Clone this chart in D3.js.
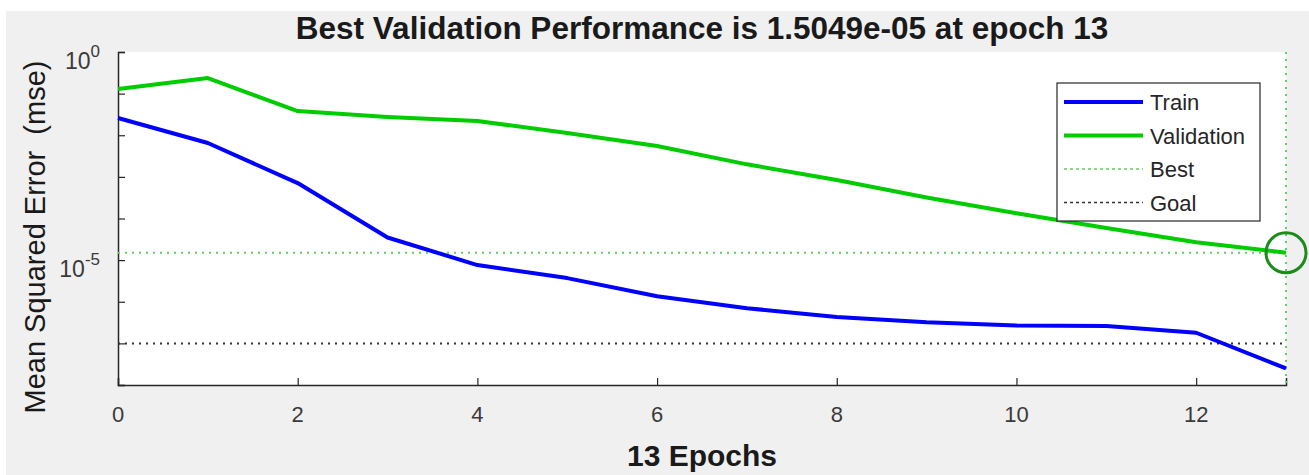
<!DOCTYPE html>
<html>
<head>
<meta charset="utf-8">
<script src="https://cdn.jsdelivr.net/npm/d3@7"></script>
<style>
  body { margin: 0; background: #ffffff; }
  text { font-family: "Liberation Sans", Arial, sans-serif; }
</style>
</head>
<body>
<div id="plot"></div>
<script>

var epochs = [0, 1, 2, 3, 4, 5, 6, 7, 8, 9, 10, 11, 12, 13];
var trainPerf = [2.6e-2, 6.5e-3, 7.1e-4, 3.5e-5, 7.6e-6, 3.7e-6, 1.36e-6, 7.0e-7, 4.3e-7, 3.2e-7, 2.7e-7, 2.6e-7, 1.8e-7, 2.5e-8];
var valPerf = [0.129, 0.237, 0.038, 0.0275, 0.022, 0.0113, 5.5e-3, 2.0e-3, 8.4e-4, 3.2e-4, 1.34e-4, 5.9e-5, 2.7e-5, 1.5049e-5];
var bestEpoch = 13;
var bestPerf = 1.5049e-5;
var goalPerf = 1e-7;
var xTicks = [0, 2, 4, 6, 8, 10, 12];
var yTickLabels = [{ v: 1, exp: "0" }, { v: 1e-5, exp: "-5" }];
var legendNames = ["Train", "Validation", "Best", "Goal"];

var svgWidth = 1309;
var svgHeight = 475;

var margin = {
  top: 52,
  right: 23,
  bottom: 90,
  left: 118
};

var width = svgWidth - margin.left - margin.right;
var height = svgHeight - margin.top - margin.bottom;

var axisColor = "#262626";
var trainColor = "#0000ff";
var valColor = "#00cc00";

var svg = d3.select("#plot")
  .append("svg")
  .attr("width", svgWidth)
  .attr("height", svgHeight);

// figure background
svg.append("rect")
  .attr("x", 6)
  .attr("y", 11)
  .attr("width", svgWidth - 6)
  .attr("height", svgHeight - 11)
  .attr("fill", "#f0f0f0");

var chartGroup = svg.append("g")
  .attr("transform", `translate(${margin.left}, ${margin.top})`);

chartGroup.append("rect")
  .attr("width", width)
  .attr("height", height)
  .attr("fill", "#ffffff");

var xScale = d3.scaleLinear()
  .domain([0, 13])
  .range([0, width]);

var yScale = d3.scaleLog()
  .domain([1e-8, 1])
  .range([height, 0]);

// axes, ticks pointing inward
var bottomAxis = d3.axisBottom(xScale)
  .tickValues(xTicks)
  .tickSize(-7)
  .tickFormat("");

var leftAxis = d3.axisLeft(yScale)
  .tickValues([1, 1e-1, 1e-2, 1e-3, 1e-4, 1e-5, 1e-6, 1e-7, 1e-8])
  .tickSize(-7)
  .tickFormat("");

var xAxisG = chartGroup.append("g")
  .attr("transform", `translate(0, ${height})`)
  .call(bottomAxis);

var yAxisG = chartGroup.append("g")
  .call(leftAxis);

[xAxisG, yAxisG].forEach(function (g) {
  g.select(".domain").attr("stroke", axisColor).attr("stroke-width", 1.5);
  g.selectAll(".tick line").attr("stroke", axisColor).attr("stroke-width", 1.2);
});

chartGroup.selectAll(".xlab")
  .data(xTicks)
  .enter()
  .append("text")
  .attr("class", "xlab")
  .attr("x", d => xScale(d))
  .attr("y", height + 37)
  .attr("text-anchor", "middle")
  .attr("font-size", 22)
  .attr("fill", "#3a3a3a")
  .text(d => d);

var yLab = chartGroup.selectAll(".ylab")
  .data(yTickLabels)
  .enter()
  .append("text")
  .attr("class", "ylab")
  .attr("x", -18)
  .attr("y", d => yScale(d.v) + 17)
  .attr("text-anchor", "end")
  .attr("font-size", 23)
  .attr("fill", "#3a3a3a");

yLab.append("tspan").text("10");
yLab.append("tspan")
  .attr("dy", -12)
  .attr("font-size", 17)
  .text(d => d.exp);

// goal and best reference lines
chartGroup.append("line")
  .attr("x1", 0)
  .attr("x2", width)
  .attr("y1", yScale(goalPerf))
  .attr("y2", yScale(goalPerf))
  .attr("stroke", "#333333")
  .attr("stroke-width", 2)
  .attr("stroke-dasharray", "2,5");

chartGroup.append("line")
  .attr("x1", 0)
  .attr("x2", width)
  .attr("y1", yScale(bestPerf))
  .attr("y2", yScale(bestPerf))
  .attr("stroke", "#66cc66")
  .attr("stroke-width", 2)
  .attr("stroke-dasharray", "2,5");

chartGroup.append("line")
  .attr("x1", xScale(bestEpoch))
  .attr("x2", xScale(bestEpoch))
  .attr("y1", 0)
  .attr("y2", height)
  .attr("stroke", "#66cc66")
  .attr("stroke-width", 2)
  .attr("stroke-dasharray", "2,5");

var line = d3.line()
  .x(d => xScale(d[0]))
  .y(d => yScale(d[1]));

chartGroup.append("path")
  .datum(d3.zip(epochs, valPerf))
  .attr("d", line)
  .attr("fill", "none")
  .attr("stroke", valColor)
  .attr("stroke-width", 4)
  .attr("stroke-linejoin", "round");

chartGroup.append("path")
  .datum(d3.zip(epochs, trainPerf))
  .attr("d", line)
  .attr("fill", "none")
  .attr("stroke", trainColor)
  .attr("stroke-width", 4)
  .attr("stroke-linejoin", "round");

chartGroup.append("circle")
  .attr("cx", xScale(bestEpoch))
  .attr("cy", yScale(bestPerf))
  .attr("r", 20)
  .attr("fill", "none")
  .attr("stroke", "#1a8c1a")
  .attr("stroke-width", 3);

// legend
var legend = svg.append("g")
  .attr("transform", "translate(1057, 83)");

legend.append("rect")
  .attr("width", 203)
  .attr("height", 138)
  .attr("fill", "#ffffff")
  .attr("stroke", axisColor)
  .attr("stroke-width", 1.2);

var legendStyles = [
  { color: trainColor, w: 4, dash: null },
  { color: valColor, w: 4, dash: null },
  { color: "#66cc66", w: 1.5, dash: "3,3" },
  { color: "#333333", w: 1.5, dash: "3,3" }
];

var legendRows = legend.selectAll(".lrow")
  .data(legendNames)
  .enter()
  .append("g")
  .attr("class", "lrow")
  .attr("transform", (d, i) => `translate(0, ${19 + i * 33.5})`);

legendRows.append("line")
  .attr("x1", 7)
  .attr("x2", 86)
  .attr("stroke", (d, i) => legendStyles[i].color)
  .attr("stroke-width", (d, i) => legendStyles[i].w)
  .attr("stroke-dasharray", (d, i) => legendStyles[i].dash);

legendRows.append("text")
  .attr("x", 93)
  .attr("y", 8)
  .attr("font-size", 22)
  .attr("fill", axisColor)
  .text(d => d);

// titles
svg.append("text")
  .attr("x", margin.left + width / 2)
  .attr("y", 39)
  .attr("text-anchor", "middle")
  .attr("font-size", 31.5)
  .attr("font-weight", "bold")
  .attr("fill", "#1a1a1a")
  .text("Best Validation Performance is 1.5049e-05 at epoch 13");

svg.append("text")
  .attr("transform", `translate(${margin.left + width / 2}, 466)`)
  .attr("text-anchor", "middle")
  .attr("font-size", 30)
  .attr("font-weight", "bold")
  .attr("fill", "#1a1a1a")
  .text("13 Epochs");

svg.append("text")
  .attr("transform", `translate(45, ${margin.top + 185}) rotate(-90)`)
  .attr("text-anchor", "middle")
  .attr("font-size", 29)
  .attr("fill", "#1a1a1a")
  .style("white-space", "pre")
  .text("Mean Squared Error  (mse)");

</script>
</body>
</html>
